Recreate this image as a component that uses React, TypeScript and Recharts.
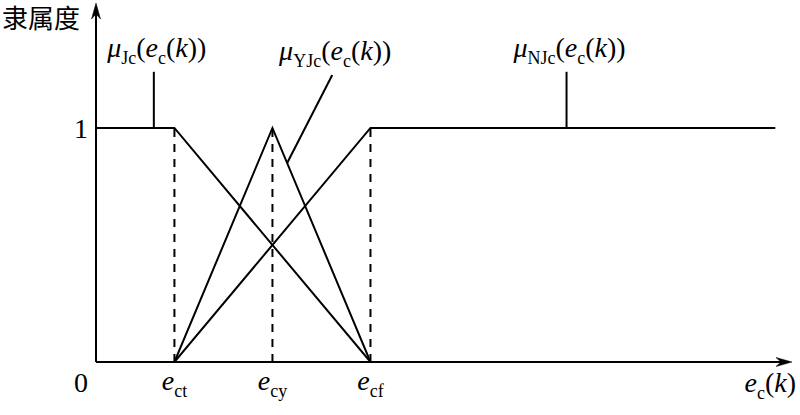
import React from 'react';
import { ComposedChart, Line, XAxis, YAxis, ReferenceLine } from 'recharts';

// membership functions (x in units of e_c(k), y = membership degree)
const jcPoints = [ { x: 0, y: 1 }, { x: 0.8, y: 1 }, { x: 2.8, y: 0 } ];
const yjcPoints = [ { x: 0.8, y: 0 }, { x: 1.8, y: 1 }, { x: 2.8, y: 0 } ];
const njcPoints = [ { x: 0.8, y: 0 }, { x: 2.8, y: 1 }, { x: 6.93, y: 1 } ];

const xTicks = [0, 0.8, 1.8, 2.8];
const xTickLabels = ['0', 'ct', 'cy', 'cf'];
const yTicks = [1];
const yTickLabels = ['1'];
const dashedAt = [0.8, 1.8, 2.8];

const xMax = 7.1;
const yMax = 1.534;

// leader lines: [from, to] and label subscript
const leaders = [
  { from: { x: 0.59, y: 1 }, to: { x: 0.59, y: 1.24 }, sub: 'Jc' },
  { from: { x: 1.95, y: 0.85 }, to: { x: 2.41, y: 1.226 }, sub: 'YJc' },
  { from: { x: 4.8, y: 1 }, to: { x: 4.8, y: 1.24 }, sub: 'NJc' },
];

const FONT = '"Liberation Serif", "Times New Roman", serif';
const MAIN = 28;
const SUB = 18;

const ArrowLine = (props: any) => {
  const { x1, y1, x2, y2 } = props;
  const dx = x2 - x1;
  const dy = y2 - y1;
  const len = Math.sqrt(dx * dx + dy * dy) || 1;
  const ux = dx / len;
  const uy = dy / len;
  const px = -uy;
  const py = ux;
  const L = 16;
  const W = 4.5;
  const N = 11;
  const bx = x2 - ux * L;
  const by = y2 - uy * L;
  const nx = x2 - ux * N;
  const ny = y2 - uy * N;
  const pts = `${x2},${y2} ${bx + px * W},${by + py * W} ${nx},${ny} ${bx - px * W},${by - py * W}`;
  return (
    <g>
      <line x1={x1} y1={y1} x2={nx} y2={ny} stroke="#000" strokeWidth={2} />
      <polygon points={pts} fill="#000" stroke="#000" strokeWidth={0.5} />
    </g>
  );
};

const MuLabel = ({ cx, base, sub }: { cx: number; base: number; sub: string }) => (
  <text x={cx} y={base} textAnchor="middle" fontFamily={FONT} fontSize={MAIN} fill="#000">
    <tspan fontStyle="italic">μ</tspan>
    <tspan fontSize={SUB} dy={7}>{sub}</tspan>
    <tspan dy={-7}>(</tspan>
    <tspan fontStyle="italic">e</tspan>
    <tspan fontSize={SUB} dy={7}>c</tspan>
    <tspan dy={-7}>(</tspan>
    <tspan fontStyle="italic">k</tspan>
    <tspan>))</tspan>
  </text>
);

const makeLeaderLabel = (sub: string) => (props: any) => {
  const vb = props.viewBox || {};
  const topX = sub === 'YJc' ? vb.x + vb.width : vb.x;
  const topY = vb.y;
  return <MuLabel cx={topX + 3} base={topY - 15} sub={sub} />;
};

const XTick = (props: any) => {
  const { x, y, payload, index } = props;
  const lbl = xTickLabels[index] ?? '';
  if (payload.value === 0) {
    return (
      <text x={x - 15} y={y + 30} textAnchor="middle" fontFamily={FONT} fontSize={MAIN} fill="#000">
        {lbl}
      </text>
    );
  }
  return (
    <text x={x} y={y + 28} textAnchor="middle" fontFamily={FONT} fontSize={MAIN} fill="#000">
      <tspan fontStyle="italic">e</tspan>
      <tspan fontSize={SUB} dy={7}>{lbl}</tspan>
    </text>
  );
};

const YTick = (props: any) => {
  const { x, y, index } = props;
  return (
    <text x={x - 15} y={y + 10} textAnchor="middle" fontFamily={FONT} fontSize={MAIN} fill="#000">
      {yTickLabels[index]}
    </text>
  );
};

const YTitle = (props: any) => (
  <text x={2} y={28} textAnchor="start" fontFamily='"Noto Sans CJK SC", sans-serif' fontSize={26} fill="#000">
    隶属度
  </text>
);

const XTitle = (props: any) => (
  <text x={796} y={392} textAnchor="end" fontFamily={FONT} fontSize={MAIN} fill="#000">
    <tspan fontStyle="italic">e</tspan>
    <tspan fontSize={SUB} dy={7}>c</tspan>
    <tspan dy={-7}>(</tspan>
    <tspan fontStyle="italic">k</tspan>
    <tspan>)</tspan>
  </text>
);

export default function App() {
  return (
    <div style={{ position: 'absolute', left: 0, top: 0, width: 800, height: 415, background: '#fff' }}>
      <ComposedChart width={800} height={415} margin={{ top: 3, right: 8, bottom: 0, left: 0 }}>
        <XAxis
          type="number"
          dataKey="x"
          domain={[0, xMax]}
          ticks={xTicks}
          tick={<XTick />}
          tickLine={false}
          axisLine={false}
          tickSize={0}
          tickMargin={0}
          height={53}
          allowDataOverflow
          interval={0}
          label={<XTitle />}
        />
        <YAxis
          type="number"
          domain={[0, yMax]}
          ticks={yTicks}
          tick={<YTick />}
          tickLine={false}
          axisLine={false}
          tickSize={0}
          tickMargin={0}
          width={96}
          allowDataOverflow
          interval={0}
          label={<YTitle />}
        />
        {dashedAt.map((d) => (
          <ReferenceLine
            key={'d' + d}
            segment={[{ x: d, y: 0 }, { x: d, y: 1 }]}
            stroke="#000"
            strokeWidth={2}
            strokeDasharray="8 7"
            ifOverflow="visible"
          />
        ))}
        {leaders.map((l) => (
          <ReferenceLine
            key={l.sub}
            segment={[l.from, l.to]}
            stroke="#000"
            strokeWidth={2}
            ifOverflow="visible"
            label={makeLeaderLabel(l.sub)}
          />
        ))}
        <Line data={jcPoints} dataKey="y" type="linear" stroke="#000" strokeWidth={2} dot={false} isAnimationActive={false} />
        <Line data={yjcPoints} dataKey="y" type="linear" stroke="#000" strokeWidth={2} dot={false} isAnimationActive={false} />
        <Line data={njcPoints} dataKey="y" type="linear" stroke="#000" strokeWidth={2} dot={false} isAnimationActive={false} />
        <ReferenceLine
          segment={[{ x: 0, y: 0 }, { x: xMax, y: 0 }]}
          ifOverflow="visible"
          shape={(p: any) => <ArrowLine {...p} />}
        />
        <ReferenceLine
          segment={[{ x: 0, y: 0 }, { x: 0, y: yMax }]}
          ifOverflow="visible"
          shape={(p: any) => <ArrowLine {...p} />}
        />
      </ComposedChart>
    </div>
  );
}
